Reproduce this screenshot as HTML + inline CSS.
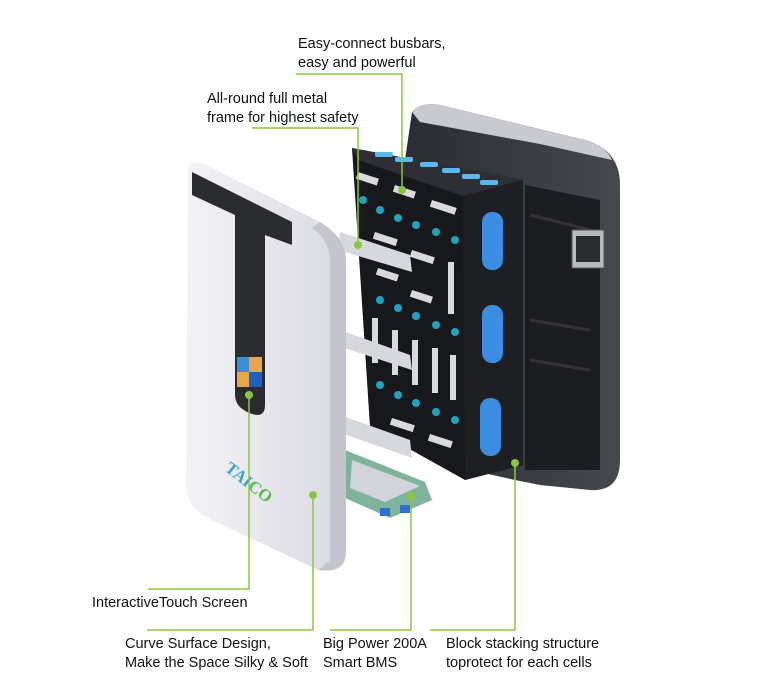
<!DOCTYPE html>
<html><head><meta charset="utf-8"><style>
html,body{margin:0;padding:0;background:#fff;}
svg{display:block;}
text{font-family:"Liberation Sans",sans-serif;font-size:14.5px;fill:#111;}
</style></head><body>
<svg width="781" height="700" viewBox="0 0 781 700" xmlns="http://www.w3.org/2000/svg">
<defs>
<linearGradient id="pan" x1="0" y1="0" x2="1" y2="0"><stop offset="0" stop-color="#f3f3f6"/><stop offset="1" stop-color="#d9dae2"/></linearGradient>
<linearGradient id="case" x1="0" y1="0" x2="1" y2="0"><stop offset="0" stop-color="#2a2c31"/><stop offset="1" stop-color="#45484e"/></linearGradient>
</defs>
<!-- back case -->
<path d="M412,112 Q420,102 440,105 L585,140 Q620,150 620,185 L620,460 Q620,492 590,490 L540,485 L515,480 L470,470 L470,200 L405,160 Z" fill="url(#case)"/>
<path d="M412,112 Q420,102 440,105 L585,140 Q606,146 612,160 L540,144 L420,122 Z" fill="#c9cad0"/>
<path d="M525,185 L600,200 L600,470 L525,470 Z" fill="#1c1d21"/>
<path d="M530,215 L590,230 M530,320 L590,330 M530,360 L590,370" stroke="#333" stroke-width="3"/>
<rect x="572" y="230" width="32" height="38" fill="#b8bac0" stroke="#555" stroke-width="1"/>
<rect x="576" y="236" width="24" height="26" fill="#2a2c30"/>
<!-- battery block -->
<path d="M352,148 L523,180 L523,465 L465,480 L370,427 Z" fill="#17181b"/>
<path d="M352,148 L523,180 L463,196 L358,160 Z" fill="#2d2f35"/>
<path d="M463,196 L523,180 L523,465 L465,480 Z" fill="#1e1f22"/>
<g fill="#3a8de0"><rect x="482" y="212" width="21" height="58" rx="10"/><rect x="482" y="305" width="21" height="58" rx="10"/><rect x="480" y="398" width="21" height="58" rx="10"/></g>
<g fill="#5ab8ee"><rect x="375" y="152" width="18" height="5" rx="2"/><rect x="395" y="157" width="18" height="5" rx="2"/><rect x="420" y="162" width="18" height="5" rx="2"/><rect x="442" y="168" width="18" height="5" rx="2"/><rect x="462" y="174" width="18" height="5" rx="2"/><rect x="480" y="180" width="18" height="5" rx="2"/></g>
<g fill="#1fa3c0"><circle cx="363" cy="200" r="4"/><circle cx="380" cy="210" r="4"/><circle cx="398" cy="218" r="4"/><circle cx="416" cy="225" r="4"/><circle cx="436" cy="232" r="4"/><circle cx="455" cy="240" r="4"/><circle cx="380" cy="300" r="4"/><circle cx="398" cy="308" r="4"/><circle cx="416" cy="316" r="4"/><circle cx="436" cy="325" r="4"/><circle cx="455" cy="332" r="4"/><circle cx="380" cy="385" r="4"/><circle cx="398" cy="395" r="4"/><circle cx="416" cy="403" r="4"/><circle cx="436" cy="412" r="4"/><circle cx="455" cy="420" r="4"/></g>
<g fill="#d8d9de"><rect x="358" y="172" width="22" height="7" transform="rotate(18 358 172)"/><rect x="395" y="185" width="22" height="7" transform="rotate(18 395 185)"/><rect x="432" y="200" width="26" height="7" transform="rotate(18 432 200)"/><rect x="375" y="232" width="24" height="7" transform="rotate(18 375 232)"/><rect x="412" y="250" width="24" height="7" transform="rotate(18 412 250)"/><rect x="378" y="268" width="22" height="7" transform="rotate(18 378 268)"/><rect x="412" y="290" width="22" height="7" transform="rotate(18 412 290)"/><rect x="448" y="262" width="6" height="52"/><rect x="372" y="318" width="6" height="45"/><rect x="392" y="330" width="6" height="45"/><rect x="412" y="340" width="6" height="45"/><rect x="432" y="348" width="6" height="45"/><rect x="450" y="355" width="6" height="45"/><rect x="392" y="418" width="24" height="7" transform="rotate(18 392 418)"/><rect x="430" y="434" width="24" height="7" transform="rotate(18 430 434)"/></g>
<!-- metal frame strips -->
<path d="M340,232 L410,255 L412,272 L338,250 Z" fill="#d6d8de"/>
<path d="M340,330 L410,355 L412,370 L338,346 Z" fill="#d6d8de"/>
<path d="M340,415 L410,440 L412,458 L338,432 Z" fill="#d6d8de"/>
<!-- BMS -->
<path d="M345,450 L425,482 L432,500 L390,518 L345,498 Z" fill="#7fb39c"/>
<path d="M352,460 L420,486 L385,502 L350,488 Z" fill="#d3d4da"/>
<rect x="380" y="508" width="10" height="8" fill="#2f6fd0"/><rect x="400" y="505" width="10" height="8" fill="#2f6fd0"/>
<!-- front panel -->
<path d="M188,168 Q190,160 202,163 L320,222 Q346,238 346,260 L346,552 Q346,574 318,570 L212,520 Q186,508 186,485 Z" fill="url(#pan)"/>
<path d="M320,222 Q346,238 346,260 L346,552 Q346,574 318,570 L330,560 L330,262 Q330,240 312,228 Z" fill="#c4c5cf"/>
<path d="M192,172 L292,222 L292,245 L265,235 L265,405 Q265,418 252,414 Q235,408 235,395 L235,215 L192,195 Z" fill="#2a2c30"/>
<rect x="237" y="357" width="25" height="30" fill="#e9a54a"/><rect x="237" y="357" width="12" height="15" fill="#3b8fd8"/><rect x="249" y="372" width="13" height="15" fill="#1f5fc0"/>
<text x="224" y="470" transform="rotate(38 224 470)" style="font-family:'Liberation Serif',serif;font-weight:bold;font-size:17px;fill:#3fa0d6">TAI<tspan style="fill:#5ab84a">CO</tspan></text>
<!-- leaders -->
<g stroke="#8cc63f" stroke-width="1.5" fill="none">
<polyline points="296,74 402,74 402,190"/>
<polyline points="252,128 358,128 358,245"/>
<polyline points="148,589 249,589 249,395"/>
<polyline points="147,630 313,630 313,495"/>
<polyline points="330,630 411,630 411,496"/>
<polyline points="430,630 515,630 515,463"/>
</g>
<g fill="#8cc63f"><circle cx="402" cy="190" r="4"/><circle cx="358" cy="245" r="4"/><circle cx="249" cy="395" r="4"/><circle cx="313" cy="495" r="4"/><circle cx="411" cy="496" r="4"/><circle cx="515" cy="463" r="4"/></g>
<text x="298" y="48">Easy-connect busbars,</text>
<text x="298" y="67">easy and powerful</text>
<text x="207" y="103">All-round full metal</text>
<text x="207" y="122">frame for highest safety</text>
<text x="92" y="607">InteractiveTouch Screen</text>
<text x="125" y="648">Curve Surface Design,</text>
<text x="125" y="667">Make the Space Silky &amp; Soft</text>
<text x="323" y="648">Big Power 200A</text>
<text x="323" y="667">Smart BMS</text>
<text x="446" y="648">Block stacking structure</text>
<text x="446" y="667">toprotect for each cells</text>
</svg>
</body></html>
